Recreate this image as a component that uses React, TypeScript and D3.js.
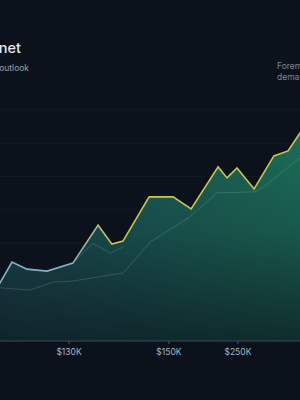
import * as d3 from 'd3';

// main series (position along x, value)
const mainX = [-3.3, 4, 9, 15.7, 24.3, 32.7, 37.3, 41, 49.7, 57.7, 63.7, 72.7, 75.7, 79, 84.7, 91.3, 96, 100, 104];
const mainY = [12.9, 24.3, 22.2, 21.6, 24.0, 35.4, 29.7, 30.6, 43.9, 43.9, 40.3, 52.9, 49.6, 52.6, 46.3, 56.2, 57.7, 63.1, 69.1];

// faint comparison series
const baseX = [-3.3, 10, 17.7, 24.3, 32.3, 41, 50, 63.3, 72.3, 85, 88.3, 103.3];
const baseY = [16.8, 15.9, 18.3, 18.6, 19.8, 21.0, 30.3, 37.9, 45.1, 45.4, 47.2, 58.0];

// dim trend segment
const trendX = [24.3, 31, 36.7, 41];
const trendY = [24.0, 30.0, 27.0, 28.8];

const tickVals = [23, 56.3, 79.3];
const tickLabels = ['$130K', '$150K', '$250K'];
const gridVals = [10, 20, 30, 40, 50, 60, 70];

const W = 300;
const H = 400;
const axisY = 341;

type Pt = [number, number];

export default function App() {
  const x = d3.scaleLinear().domain([0, 100]).range([0, 300]);
  const y = d3.scaleLinear().domain([0, 70]).range([343, 110]);

  const main: Pt[] = mainX.map((v, i) => [v, mainY[i]]);
  const base: Pt[] = baseX.map((v, i) => [v, baseY[i]]);
  const trend: Pt[] = trendX.map((v, i) => [v, trendY[i]]);

  const line = d3.line<Pt>().x(d => x(d[0])).y(d => y(d[1]));
  const area = d3.area<Pt>().x(d => x(d[0])).y0(axisY).y1(d => y(d[1]));

  const font = 'Inter, "Noto Sans", sans-serif';

  return (
    <svg width={W} height={H} style={{ position: 'absolute', left: 0, top: 0, display: 'block' }}>
      <defs>
        <linearGradient id="areaH" gradientUnits="userSpaceOnUse" x1={0} y1={0} x2={300} y2={0}>
          <stop offset="0" stopColor="#1e4a53" />
          <stop offset="0.45" stopColor="#1b5a56" />
          <stop offset="1" stopColor="#1b6c57" />
        </linearGradient>
        <linearGradient id="areaV" gradientUnits="userSpaceOnUse" x1={0} y1={140} x2={0} y2={axisY}>
          <stop offset="0" stopColor="#0b141c" stopOpacity={0} />
          <stop offset="0.45" stopColor="#0b141c" stopOpacity={0.22} />
          <stop offset="1" stopColor="#0b141c" stopOpacity={0.72} />
        </linearGradient>
        <linearGradient id="stroke" gradientUnits="userSpaceOnUse" x1={70} y1={0} x2={115} y2={0}>
          <stop offset="0" stopColor="#82b4bf" />
          <stop offset="1" stopColor="#cdc44e" />
        </linearGradient>
      </defs>

      <rect width={W} height={H} fill="#0b121b" />

      {/* grid */}
      {gridVals.map(g => (
        <line key={g} x1={0} x2={W} y1={y(g)} y2={y(g)} stroke="#111b24" strokeWidth={1} />
      ))}

      {/* area */}
      <path d={area(main) ?? ''} fill="url(#areaH)" />
      <path d={area(main) ?? ''} fill="url(#areaV)" />

      {/* faint lines */}
      <path d={line(base) ?? ''} fill="none" stroke="#9cc7a2" strokeOpacity={0.22} strokeWidth={1} />
      <path d={line(trend) ?? ''} fill="none" stroke="#7fb3bd" strokeOpacity={0.25} strokeWidth={1} />

      {/* main line */}
      <path d={line(main) ?? ''} fill="none" stroke="url(#stroke)" strokeWidth={1.6} strokeLinejoin="miter" />

      {/* axis */}
      <line x1={0} x2={W} y1={axisY} y2={axisY} stroke="#3d4d58" strokeWidth={1} />
      {tickVals.map((t, i) => (
        <g key={t} transform={`translate(${x(t)},${axisY})`}>
          <line y1={0} y2={3} stroke="#4a5a66" />
          <text y={14} textAnchor="middle" fontSize={8.5} fill="#a9b2bb" fontFamily={font}>
            {tickLabels[i]}
          </text>
        </g>
      ))}

      {/* titles (clipped at the left edge, as in the reference) */}
      <text x={21} y={53} textAnchor="end" fontSize={14.5} fill="#e6eaee" fontFamily={font} fontWeight={500}>
        Talent net
      </text>
      <text x={29} y={71} textAnchor="end" fontSize={8.5} fill="#98a2ac" fontFamily={font}>
        12-month outlook
      </text>

      {/* annotation at right */}
      <text x={277} y={69} fontSize={8.5} fill="#7b8793" fontFamily={font}>Foremost</text>
      <text x={277} y={80} fontSize={8.5} fill="#7b8793" fontFamily={font}>demand</text>
    </svg>
  );
}
